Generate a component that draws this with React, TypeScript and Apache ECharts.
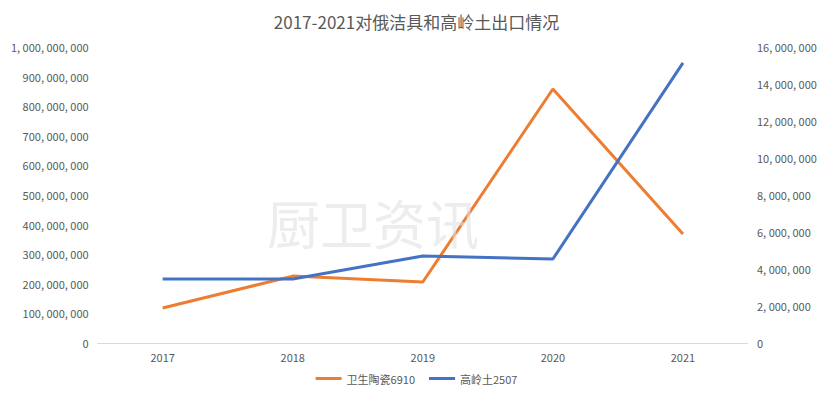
import React, { useEffect, useRef } from "react";
import * as echarts from "echarts";

const years = ["2017", "2018", "2019", "2020", "2021"];
const ceramics = [118000000, 226000000, 206000000, 858000000, 368000000];
const kaolin = [3460000, 3460000, 4700000, 4540000, 15140000];
const seriesNames = ["卫生陶瓷6910", "高岭土2507"];
const titleText = "2017-2021对俄洁具和高岭土出口情况";
const watermark = "厨卫资讯";

const fmt = (v: number) =>
  String(Math.round(v)).replace(/\B(?=(\d{3})+(?!\d))/g, ", ");

export default function App() {
  const ref = useRef<HTMLDivElement>(null);
  useEffect(() => {
    if (!ref.current) return;
    const chart = echarts.init(ref.current, undefined, { renderer: "svg" });
    const font = "'Noto Sans CJK SC', 'DejaVu Sans', sans-serif";
    chart.setOption({
      animation: false,
      textStyle: { fontFamily: font },
      title: {
        text: titleText,
        left: "center",
        top: 0,
        textStyle: { fontSize: 17, fontWeight: "normal", color: "#595959", fontFamily: font },
      },
      legend: {
        bottom: 8,
        left: "center",
        itemWidth: 26,
        itemHeight: 3,
        itemGap: 14,
        icon: "rect",
        textStyle: { fontSize: 11, color: "#595959" },
        data: seriesNames,
      },
      grid: { left: 85, right: 77, top: 39, bottom: 54 },
      xAxis: {
        type: "category",
        data: years,
        boundaryGap: true,
        axisLine: { lineStyle: { color: "#D9D9D9" } },
        axisTick: { show: false },
        axisLabel: { color: "#595959", fontSize: 11, margin: 8 },
      },
      yAxis: [
        {
          type: "value",
          min: 0,
          max: 1000000000,
          interval: 100000000,
          splitLine: { show: false },
          axisLine: { show: false },
          axisTick: { show: false },
          axisLabel: { color: "#595959", fontSize: 11, formatter: fmt, margin: 9 },
        },
        {
          type: "value",
          min: 0,
          max: 16000000,
          interval: 2000000,
          splitLine: { show: false },
          axisLine: { show: false },
          axisTick: { show: false },
          axisLabel: { color: "#595959", fontSize: 11, formatter: fmt, margin: 9 },
        },
      ],
      series: [
        {
          name: seriesNames[0],
          type: "line",
          yAxisIndex: 0,
          data: ceramics,
          symbol: "none",
          lineStyle: { width: 3, color: "#ED7D31" },
          itemStyle: { color: "#ED7D31" },
        },
        {
          name: seriesNames[1],
          type: "line",
          yAxisIndex: 1,
          data: kaolin,
          symbol: "none",
          lineStyle: { width: 3, color: "#4472C4" },
          itemStyle: { color: "#4472C4" },
        },
      ],
      graphic: [
        {
          type: "text",
          left: 259,
          top: 187,
          z: 100,
          style: {
            text: watermark,
            fontSize: 53,
            fontFamily: "'Noto Sans CJK SC', serif",
            fill: "rgba(225,225,225,0.6)",
            letterSpacing: 2,
          },
        },
      ],
    });
    return () => chart.dispose();
  }, []);
  return <div ref={ref} style={{ width: 817, height: 389 }} />;
}
